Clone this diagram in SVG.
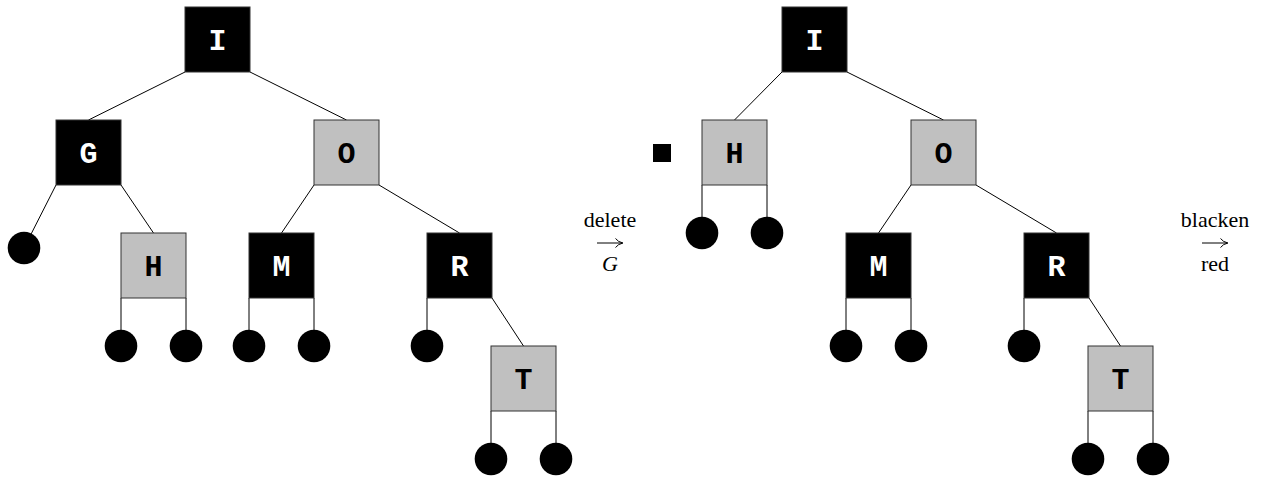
<svg xmlns="http://www.w3.org/2000/svg" width="1266" height="478" viewBox="0 0 1266 478">
<style>
.b{fill:#000;stroke:#333;stroke-width:1}
.g{fill:#c0c0c0;stroke:#333;stroke-width:1}
.tw{font-family:"Liberation Mono",monospace;font-weight:bold;font-size:30px;fill:#fff;text-anchor:middle}
.tk{font-family:"Liberation Mono",monospace;font-weight:bold;font-size:30px;fill:#000;text-anchor:middle}
.e{stroke:#000;stroke-width:1;fill:none}
.leaf{fill:#000}
.lbl{font-family:"Liberation Serif",serif;font-size:22px;fill:#000;text-anchor:middle}
</style>
<rect width="1266" height="478" fill="#fff"/>
<g id="connectors">
<line class="e" x1="185" y1="72" x2="88.5" y2="120"/>
<line class="e" x1="250" y1="72" x2="346.5" y2="120"/>
<line class="e" x1="56" y1="185" x2="24" y2="248"/>
<line class="e" x1="121" y1="185" x2="153.5" y2="233"/>
<line class="e" x1="314" y1="185" x2="281.5" y2="233"/>
<line class="e" x1="379" y1="185" x2="459.5" y2="233"/>
<line class="e" x1="121" y1="298" x2="121" y2="346"/>
<line class="e" x1="186" y1="298" x2="186" y2="346"/>
<line class="e" x1="249" y1="298" x2="249" y2="346"/>
<line class="e" x1="314" y1="298" x2="314" y2="346"/>
<line class="e" x1="427" y1="298" x2="427" y2="346"/>
<line class="e" x1="492" y1="298" x2="523.5" y2="346"/>
<line class="e" x1="491" y1="411" x2="491" y2="459"/>
<line class="e" x1="556" y1="411" x2="556" y2="459"/>
<line class="e" x1="782" y1="72" x2="734.5" y2="120"/>
<line class="e" x1="847" y1="72" x2="943.5" y2="120"/>
<line class="e" x1="702" y1="185" x2="702" y2="233"/>
<line class="e" x1="767" y1="185" x2="767" y2="233"/>
<line class="e" x1="911" y1="185" x2="878.5" y2="233"/>
<line class="e" x1="976" y1="185" x2="1056.5" y2="233"/>
<line class="e" x1="846" y1="298" x2="846" y2="346"/>
<line class="e" x1="911" y1="298" x2="911" y2="346"/>
<line class="e" x1="1024" y1="298" x2="1024" y2="346"/>
<line class="e" x1="1089" y1="298" x2="1120.5" y2="346"/>
<line class="e" x1="1088" y1="411" x2="1088" y2="459"/>
<line class="e" x1="1153" y1="411" x2="1153" y2="459"/>
</g>
<g id="L-I"><rect class="b" x="185" y="7" width="65" height="65"/><text class="tw" x="217.5" y="49.5">I</text></g>
<g id="L-G"><rect class="b" x="56" y="120" width="65" height="65"/><text class="tw" x="88.5" y="162.5">G</text></g>
<g id="L-O"><rect class="g" x="314" y="120" width="65" height="65"/><text class="tk" x="346.5" y="162.5">O</text></g>
<g id="L-H"><rect class="g" x="121" y="233" width="65" height="65"/><text class="tk" x="153.5" y="275.5">H</text></g>
<g id="L-M"><rect class="b" x="249" y="233" width="65" height="65"/><text class="tw" x="281.5" y="275.5">M</text></g>
<g id="L-R"><rect class="b" x="427" y="233" width="65" height="65"/><text class="tw" x="459.5" y="275.5">R</text></g>
<g id="L-T"><rect class="g" x="491" y="346" width="65" height="65"/><text class="tk" x="523.5" y="388.5">T</text></g>
<g id="L-leaves">
<circle class="leaf" cx="24" cy="248" r="16.3"/>
<circle class="leaf" cx="121" cy="346" r="16.3"/>
<circle class="leaf" cx="186" cy="346" r="16.3"/>
<circle class="leaf" cx="249" cy="346" r="16.3"/>
<circle class="leaf" cx="314" cy="346" r="16.3"/>
<circle class="leaf" cx="427" cy="346" r="16.3"/>
<circle class="leaf" cx="491" cy="459" r="16.3"/>
<circle class="leaf" cx="556" cy="459" r="16.3"/>
</g>
<g id="op-delete">
<text class="lbl" x="610" y="227">delete</text>
<line class="e" x1="597" y1="243" x2="622" y2="243"/>
<path class="e" d="M615.5,238.5 Q618,242 623,243 Q618,244 615.5,247.5"/>
<text class="lbl" x="610" y="271" font-style="italic">G</text>
</g>
<g id="R-I"><rect class="b" x="782" y="7" width="65" height="65"/><text class="tw" x="814.5" y="49.5">I</text></g>
<g id="R-black"><rect x="653" y="144" width="18" height="18" fill="#000"/></g>
<g id="R-H"><rect class="g" x="702" y="120" width="65" height="65"/><text class="tk" x="734.5" y="162.5">H</text></g>
<g id="R-O"><rect class="g" x="911" y="120" width="65" height="65"/><text class="tk" x="943.5" y="162.5">O</text></g>
<g id="R-M"><rect class="b" x="846" y="233" width="65" height="65"/><text class="tw" x="878.5" y="275.5">M</text></g>
<g id="R-R"><rect class="b" x="1024" y="233" width="65" height="65"/><text class="tw" x="1056.5" y="275.5">R</text></g>
<g id="R-T"><rect class="g" x="1088" y="346" width="65" height="65"/><text class="tk" x="1120.5" y="388.5">T</text></g>
<g id="R-leaves">
<circle class="leaf" cx="702" cy="233" r="16.3"/>
<circle class="leaf" cx="767" cy="233" r="16.3"/>
<circle class="leaf" cx="846" cy="346" r="16.3"/>
<circle class="leaf" cx="911" cy="346" r="16.3"/>
<circle class="leaf" cx="1024" cy="346" r="16.3"/>
<circle class="leaf" cx="1088" cy="459" r="16.3"/>
<circle class="leaf" cx="1153" cy="459" r="16.3"/>
</g>
<g id="op-blacken">
<text class="lbl" x="1215" y="227">blacken</text>
<line class="e" x1="1202" y1="243" x2="1227" y2="243"/>
<path class="e" d="M1220.5,238.5 Q1223,242 1228,243 Q1223,244 1220.5,247.5"/>
<text class="lbl" x="1215" y="271">red</text>
</g>
</svg>
